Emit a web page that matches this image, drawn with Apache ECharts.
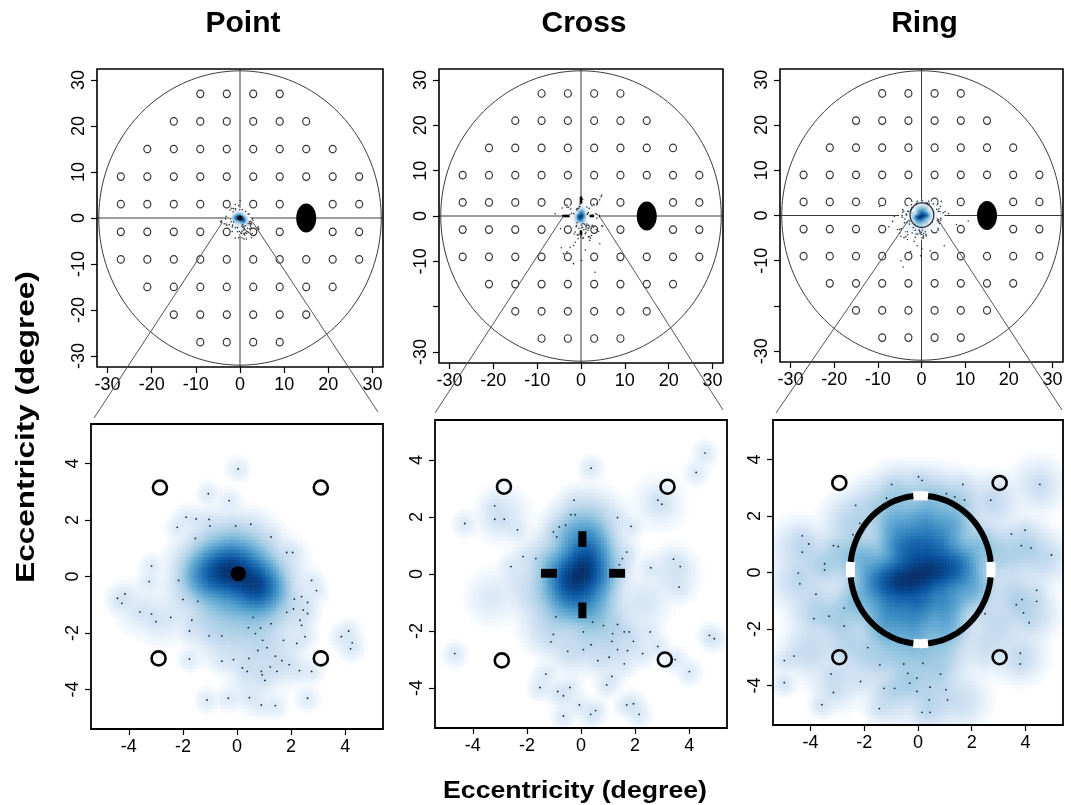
<!DOCTYPE html>
<html><head><meta charset="utf-8">
<script src="https://cdn.jsdelivr.net/npm/echarts@6/dist/echarts.min.js"></script>
<style>html,body{margin:0;padding:0;background:#fff}#c{width:1071px;height:805px}</style>
</head><body><div id="c"></div>
<script>
// ---------------- DATA ----------------
const panelTitles = ['Point', 'Cross', 'Ring'];
const axisTitle = 'Eccentricity (degree)';
const topTicks = [-30, -20, -10, 0, 10, 20, 30];
const topYLabels = [[-30, -20, -10, 0, 10, 20, 30], [-30, -10, 0, 10, 20, 30], [-30, -10, 0, 10, 20, 30]];
const bottomTicks = [-4, -2, 0, 2, 4];

// 30-2 test grid rows: [y, x-positions]
const testRows = [
  [27, [-9, -3, 3, 9]],
  [21, [-15, -9, -3, 3, 9, 15]],
  [15, [-21, -15, -9, -3, 3, 9, 15, 21]],
  [9, [-27, -21, -15, -9, -3, 3, 9, 15, 21, 27]],
  [3, [-27, -21, -15, -9, -3, 3, 9, 21, 27]],
  [-3, [-27, -21, -15, -9, -3, 3, 9, 21, 27]],
  [-9, [-27, -21, -15, -9, -3, 3, 9, 15, 21, 27]],
  [-15, [-21, -15, -9, -3, 3, 9, 15, 21]],
  [-21, [-15, -9, -3, 3, 9, 15]],
  [-27, [-9, -3, 3, 9]]
];
const blindSpot = [15, 0];

// surrounding stimuli in the zoomed panels
const surroundPoint = [[-2.85, 3.15], [3.1, 3.15], [-2.9, -2.9], [3.1, -2.9]];
const surroundCross = [[-2.85, 3.06], [3.2, 3.06], [-2.93, -3.03], [3.1, -3.0]];
const surroundRing = [[-2.93, 3.17], [3.04, 3.17], [-2.93, -3.0], [3.04, -3.0]];

// fixation targets
const pointTarget = [0.05, 0.1];
const crossArms = [[-0.1, 0.95, 0.2, 1.5], [-0.1, -1.0, 0.2, -1.55], [-1.48, -0.13, -0.89, 0.18], [1.04, -0.13, 1.63, 0.18]];
const ringTarget = [0.1, 0.1, 2.62];
const ringGapAngles = [0, 90, 180, 270];

// outlying gaze samples (dots)
const dotsPoint = [[0.04,3.81],[-1.06,2.93],[-0.29,2.69],[-1.88,2.10],[-1.51,2.04],[-1.03,2.02],[-1.0,1.79],[-0.05,1.79],[0.51,1.85],[-2.21,1.74],[-1.54,1.35],[1.26,1.40],[1.84,0.85],[2.06,0.85],[-3.16,0.37],[-3.25,-0.18],[-2.16,-0.14],[2.76,-0.14],[2.94,-0.5],[-4.14,-0.62],[-4.42,-0.77],[-4.26,-0.95],[-2.0,-0.81],[-1.45,-0.88],[2.12,-0.8],[2.39,-0.71],[2.61,-0.92],[-3.59,-1.25],[-3.16,-1.33],[-3.0,-1.6],[-2.45,-1.45],[-1.67,-1.55],[1.84,-1.27],[2.09,-1.15],[2.45,-1.19],[2.61,-1.31],[2.33,-1.55],[2.39,-1.73],[0.6,-1.45],[0.42,-1.81],[0.87,-1.83],[1.26,-1.67],[-1.76,-1.93],[0.68,-2.02],[-1.03,-2.1],[-0.56,-2.1],[0.95,-2.26],[1.72,-2.26],[2.21,-2.37],[2.52,-2.13],[3.86,-2.13],[4.13,-1.93],[4.26,-2.35],[4.2,-2.56],[1.11,-2.52],[0.77,-2.62],[-1.76,-2.92],[-0.56,-3.0],[-0.13,-2.94],[0.44,-2.9],[1.42,-2.82],[1.66,-2.98],[1.93,-3.12],[0.2,-3.24],[0.38,-3.36],[0.9,-3.36],[1.23,-3.2],[1.48,-3.36],[2.31,-3.33],[2.76,-3.36],[0.93,-3.48],[1.03,-3.68],[-1.11,-4.37],[-0.32,-4.31],[0.46,-4.29],[0.9,-4.55],[1.42,-4.57],[2.61,-4.31]];
const dotsCross = [[0.37,3.71],[4.59,4.24],[4.26,3.56],[-4.3,1.77],[-3.19,2.39],[-3.19,1.92],[-2.84,1.92],[-2.35,1.55],[-2.59,0.26],[-0.26,2.59],[-0.38,2.08],[-0.22,2.08],[-0.57,1.71],[-0.8,1.65],[-1.02,1.48],[-0.9,1.3],[1.35,1.98],[1.85,1.67],[-2.14,0.61],[-1.67,0.54],[1.69,0.77],[1.53,0.54],[1.42,0.32],[2.84,2.59],[2.99,2.45],[2.58,0.22],[3.42,0.52],[3.67,0.26],[3.63,-0.46],[-0.93,-1.5],[0.09,-2.03],[0.43,-1.69],[0.83,-1.81],[1.35,-1.77],[1.17,-2.09],[1.14,-2.36],[1.6,-2.03],[1.78,-2.03],[1.94,-2.36],[2.56,-2.03],[2.84,-2.54],[-1.02,-2.12],[-1.11,-2.38],[-0.49,-2.71],[0.09,-2.65],[0.37,-2.48],[0.62,-3.04],[1.04,-2.92],[1.35,-2.65],[1.72,-2.69],[1.6,-3.15],[2.28,-2.79],[3.48,-3.0],[4.01,-3.42],[-4.67,-2.79],[4.75,-2.15],[4.93,-2.27],[-1.3,-3.51],[-1.52,-3.98],[-0.86,-4.12],[-0.65,-4.27],[-0.41,-3.98],[1.14,-3.59],[0.95,-3.89],[-0.06,-4.59],[0.36,-4.92],[0.54,-4.79],[1.69,-4.59],[1.94,-4.55],[2.15,-4.92],[-0.65,-4.98]];
const dotsRing = [[0.02,3.39],[0.15,3.26],[-0.98,3.12],[1.67,3.12],[4.54,3.12],[-2.32,2.38],[-1.17,2.63],[1.06,2.79],[1.37,2.68],[1.73,2.56],[2.71,2.56],[-2.17,1.74],[-2.42,1.34],[-4.31,1.3],[-4.07,1.01],[-4.31,0.72],[-3.15,0.95],[-2.97,0.92],[-3.48,0.31],[-3.48,0.09],[-4.46,-0.02],[-4.4,-0.4],[-3.8,-0.77],[-2.75,-1.26],[-3.31,-1.55],[-3.88,-1.63],[-2.75,-1.9],[3.48,1.36],[3.99,1.5],[3.85,0.95],[4.21,0.87],[4.97,0.62],[4.42,-0.63],[4.42,-1.02],[3.66,-1.14],[3.87,-0.96],[3.93,-1.43],[4.14,-1.78],[2.5,-1.46],[3.81,-2.86],[3.81,-3.24],[-4.98,-3.12],[-4.62,-2.96],[-4.98,-3.9],[-3.24,-3.59],[-3.15,-4.25],[-3.58,-4.68],[-2.14,-3.86],[-1.87,-2.66],[-1.42,-3.27],[-1.26,-4.1],[-0.87,-4.1],[-1.44,-4.82],[-0.53,-3.24],[-0.38,-3.57],[-0.31,-3.92],[-0.04,-3.74],[0.18,-3.22],[-0.04,-4.21],[0.45,-4.06],[0.84,-3.6],[1.04,-4.15],[0.15,-4.95],[0.45,-4.95],[0.42,-4.51],[1.1,-4.51]];

// dense gaze clusters [x, y, weight]
const clustersPoint = [[-0.7,0.1,150],[0.0,0.1,200],[0.6,-0.2,200],[0.9,-0.4,110],[-0.3,0.3,120],[-1.2,0.1,50],[0.0,0.7,45],[-0.8,0.6,30],[0.7,0.5,30],[-1.2,-0.1,25],[0.0,-0.7,35],[-0.7,-0.8,18],[0.7,-0.9,22],[1.3,-0.5,15],[-0.2,1.3,10],[-0.9,1.2,6],[0.6,1.2,6],[-1.6,0.5,4],[-0.3,-1.5,8],[0.4,-1.5,8],[1.2,-1.4,6],[-1.1,-1.5,5],[-0.5,-2.2,3],[0.3,-2.3,4],[1.1,-2.2,3],[1.8,-1.1,2],[1.6,0.4,3],[-1.9,-0.7,2],[-3.6,-1.1,1],[-2.8,-1.5,1],[0.8,-3.0,2],[1.7,-3.0,1.5],[0.5,-3.8,1]];
const clustersCross = [[0.1,0.15,200],[-0.4,-0.2,160],[0.2,0.7,90],[-0.1,-0.7,80],[0.3,1.2,40],[-0.3,1.3,25],[0.5,-0.2,50],[-0.8,0.2,25],[0.4,-1.1,25],[-0.6,-1.1,20],[0.1,1.9,8],[0.6,1.9,4],[-0.9,-0.6,12],[-1.2,0.5,5],[0.9,0.5,7],[-1.5,-0.8,4],[-1.2,-1.8,4],[0.3,-1.8,6],[1.0,-1.6,5],[-0.3,-2.5,3],[0.8,-2.5,3],[1.6,-2.2,2],[-2.0,-0.3,2],[2.3,-1.0,1.5],[3.4,0.0,1.5],[-2.9,2.1,1.5],[-3.3,-0.8,1],[2.9,2.5,1]];
const clustersRing = [[0,-0.1,150],[-0.7,-0.3,150],[0.7,0.1,130],[1.4,0.2,80],[-1.4,-0.3,60],[0.0,0.8,70],[-0.6,0.9,50],[0.7,1.0,50],[0.2,1.7,35],[-0.8,1.7,22],[1.2,1.7,22],[0.0,-1.0,65],[-1.0,-1.2,40],[1.0,-1.0,40],[-0.2,-1.8,30],[1.0,-1.9,20],[-1.2,-1.9,20],[2.0,-0.5,20],[-2.0,0.5,16],[-2.2,-1.0,14],[2.3,0.9,12],[0.5,2.6,10],[-0.7,2.7,8],[1.5,2.5,5],[-1.6,2.3,5],[0.0,-2.7,10],[-0.9,-2.8,7],[0.9,-2.9,6],[-2.8,0.6,6],[-3.6,0.3,4],[-3.8,-1.3,4],[-3.0,-1.6,5],[-2.6,-2.5,4],[-4.0,-2.7,3],[-1.8,-3.0,4],[-0.4,-3.8,5],[0.6,-3.6,4],[-1.0,-4.3,3],[0.5,-4.6,3],[-3.0,-3.8,2],[3.2,0.6,5],[4.0,0.9,4],[3.6,-0.8,4],[4.2,-1.4,3],[3.0,-1.8,3],[2.5,-2.6,2],[3.8,-2.9,2],[4.6,0.5,2.5],[-4.4,0.9,2.5],[-4.5,-0.3,2.5],[2.8,2.5,2.5],[4.5,3.1,1.5],[1.6,-4.5,2],[-2.5,1.8,4]];

// extra outlying samples visible only at the full-field scale
const topDotsPoint = [];
const topDotsCross = [[4.7,4.6],[3.6,2.8],[-5.9,0.5],[-1.7,-6.5],[-2.5,-6.9],[-3.2,-7.9],[-4.0,-8.3],[-1.7,-10.5],[3.2,-12.4],[-1.3,-5.8],[2.4,-4.3],[2.0,-5.4],[4.3,-6.1],[0.15,-9.8],[-4.5,-7.0],[1.0,-7.5]];
const topDotsRing = [[-9.6,2.0],[-6.6,-1.3],[-6.2,-0.2],[-5.5,-3.1],[-4.7,-4.6],[-4.0,-4.9],[-3.2,-5.3],[-1.7,-5.7],[-1.0,-6.7],[0.1,-7.4],[-4.7,-10.0],[-4.2,-11.4],[-0.2,-8.9],[2.0,-7.8],[5.2,-6.7],[8.0,-2.0],[10.7,-1.2],[4.3,2.0],[5.4,0.9],[6.2,0.4],[-7.5,-2.5],[-2.5,-8.0]];

// ---------------- LAYOUT / STYLE ----------------
const FONT = '"Liberation Sans", Arial, sans-serif';
const TOP_HALF = 32.4, BOT_HALF = 5.4, FIELD_R = 32;
const topGrids = [{left:97,top:69,width:286,height:298},{left:439,top:69,width:284,height:294},{left:780,top:69,width:283,height:293}];
const botGrids = [{left:91,top:424,width:292,height:305},{left:435,top:420,width:292,height:308},{left:773,top:420,width:290,height:305}];
const BW_FINE = 0.2, BW_BROAD = 0.42;
const BLUES = ['#FFFFFF','#F7FBFF','#DEEBF7','#C6DBEF','#9ECAE1','#6BAED6','#4292C6','#2171B5','#08519C','#08306B'];

function hex(h){return [parseInt(h.slice(1,3),16),parseInt(h.slice(3,5),16),parseInt(h.slice(5,7),16)];}
const BL = BLUES.map(hex);
function ramp(t){
  t = Math.max(0, Math.min(1, t));
  const f = t * (BL.length - 1); const i = Math.min(Math.floor(f), BL.length - 2); const u = f - i;
  const a = BL[i], b = BL[i+1];
  return 'rgb(' + Math.round(a[0]+(b[0]-a[0])*u) + ',' + Math.round(a[1]+(b[1]-a[1])*u) + ',' + Math.round(a[2]+(b[2]-a[2])*u) + ')';
}
function dens(dots, clusters, x, y){
  let d = 0; const f2 = 2*BW_FINE*BW_FINE, b2 = 2*BW_BROAD*BW_BROAD;
  for (const p of dots){const dx=x-p[0], dy=y-p[1]; d += Math.exp(-(dx*dx+dy*dy)/f2);}
  for (const p of clusters){const dx=x-p[0], dy=y-p[1]; d += p[2]*Math.exp(-(dx*dx+dy*dy)/b2);}
  return d;
}
function densityCells(dots, clusters, half, step, power, cutoff){
  const n = Math.round(2*half/step); const vals = []; let max = 0;
  for (let i=0;i<n;i++) for (let j=0;j<n;j++){
    const x = -half + step*(i+0.5), y = -half + step*(j+0.5);
    const d = dens(dots, clusters, x, y); vals.push([x,y,d]); if (d>max) max = d;
  }
  const out = [];
  for (const v of vals){ const t = Math.pow(v[2]/max, power); if (t > cutoff) out.push([v[0], v[1], t]); }
  return out;
}

const dotsAll = [dotsPoint, dotsCross, dotsRing];
const clustersAll = [clustersPoint, clustersCross, clustersRing];
const topDotsAll = [topDotsPoint, topDotsCross, topDotsRing];
const surroundAll = [surroundPoint, surroundCross, surroundRing];

const grids = [], xAxes = [], yAxes = [], series = [];
function addAxes(gi, half, ticks, ylabels){
  const common = {gridIndex:gi, type:'value', min:-half, max:half,
    axisLine:{show:false, onZero:false},
    axisTick:{show:true, inside:false, length:6, customValues:ticks, lineStyle:{color:'#000', width:1.2}},
    splitLine:{show:false}};
  xAxes.push(Object.assign({}, common, {position:'bottom',
    axisLabel:{customValues:ticks, fontSize:18, color:'#000', fontFamily:FONT, margin:9}}));
  yAxes.push(Object.assign({}, common, {position:'left',
    axisLabel:{customValues:ylabels, fontSize:18, color:'#000', fontFamily:FONT, margin:9, rotate:90}}));
}
function cellSeries(gi, cells, step, z){
  return {type:'custom', xAxisIndex:gi, yAxisIndex:gi, z:z, silent:true, animation:false, progressive:0,
    data:cells, renderItem:function(params, api){
      const x = api.value(0), y = api.value(1), t = api.value(2);
      const p1 = api.coord([x-step/2, y+step/2]), p2 = api.coord([x+step/2, y-step/2]);
      return {type:'rect', shape:{x:p1[0], y:p1[1], width:p2[0]-p1[0]+0.6, height:p2[1]-p1[1]+0.6}, style:{fill:ramp(t)}};
    }};
}
function boxSeries(gi, half, lw){
  return {type:'custom', xAxisIndex:gi, yAxisIndex:gi, z:20, silent:true, animation:false, data:[[0,0]],
    renderItem:function(params, api){
      const a = api.coord([-half, half]), b = api.coord([half, -half]);
      return {type:'rect', shape:{x:a[0], y:a[1], width:b[0]-a[0], height:b[1]-a[1]}, style:{stroke:'#000', lineWidth:lw, fill:null}};
    }};
}

for (let k=0;k<3;k++){
  // ---- top panel (full field) ----
  const gi = k;
  grids.push(Object.assign({show:false}, topGrids[k]));
  addAxes(gi, TOP_HALF, topTicks, topYLabels[k]);
  series.push({type:'custom', xAxisIndex:gi, yAxisIndex:gi, z:2, silent:true, animation:false, data:[[0,0]],
    renderItem:function(params, api){
      const pts = [];
      for (let a=0;a<=360;a+=2){const r=a*Math.PI/180; pts.push(api.coord([FIELD_R*Math.cos(r), FIELD_R*Math.sin(r)]));}
      const st = {stroke:'#3a3a3a', lineWidth:1, fill:null};
      const c = api.coord([0,0]), lo = api.coord([-TOP_HALF,-TOP_HALF]), hi = api.coord([TOP_HALF,TOP_HALF]);
      return {type:'group', children:[
        {type:'polyline', shape:{points:pts}, style:st},
        {type:'line', shape:{x1:lo[0], y1:c[1], x2:hi[0], y2:c[1]}, style:st},
        {type:'line', shape:{x1:c[0], y1:hi[1], x2:c[0], y2:lo[1]}, style:st}
      ]};
    }});
  const testPts = [];
  for (const row of testRows) for (const x of row[1]) testPts.push([x, row[0]]);
  series.push({type:'scatter', xAxisIndex:gi, yAxisIndex:gi, z:3, silent:true, animation:false, data:testPts,
    symbol:'circle', symbolSize:[7,7.5], itemStyle:{color:'rgba(0,0,0,0)', borderColor:'#333', borderWidth:1.2, opacity:1}});
  series.push({type:'scatter', xAxisIndex:gi, yAxisIndex:gi, z:3, silent:true, animation:false, data:[blindSpot],
    symbol:'circle', symbolSize:[20,29], itemStyle:{color:'#000', opacity:1}});
  if (k===1){
    series.push({type:'custom', xAxisIndex:gi, yAxisIndex:gi, z:3, silent:true, animation:false, data:[[0,0]],
      renderItem:function(params, api){
        const c = api.coord([0,0]); const a = api.coord([4.3,4.3]); const b = api.coord([1.0,1.0]);
        const dx = a[0]-c[0], dy = c[1]-a[1], ix = b[0]-c[0], iy = c[1]-b[1];
        const st = {stroke:'#000', lineWidth:2.6};
        return {type:'group', children:[
          {type:'line', shape:{x1:c[0]-dx,y1:c[1],x2:c[0]-ix,y2:c[1]}, style:st},
          {type:'line', shape:{x1:c[0]+ix,y1:c[1],x2:c[0]+dx,y2:c[1]}, style:st},
          {type:'line', shape:{x1:c[0],y1:c[1]-dy,x2:c[0],y2:c[1]-iy}, style:st},
          {type:'line', shape:{x1:c[0],y1:c[1]+iy,x2:c[0],y2:c[1]+dy}, style:st}]};
      }});
  }
  series.push(cellSeries(gi, densityCells(dotsAll[k], clustersAll[k], 9, 0.3, 0.45, 0.08), 0.3, 4));
  series.push({type:'scatter', xAxisIndex:gi, yAxisIndex:gi, z:5, silent:true, animation:false,
    data:dotsAll[k].concat(topDotsAll[k]), symbolSize:1.6, itemStyle:{color:'#333', opacity:1}});
  if (k===0){
    series.push({type:'scatter', xAxisIndex:gi, yAxisIndex:gi, z:6, silent:true, animation:false, data:[[0,0]],
      symbolSize:5, itemStyle:{color:'#000', opacity:1}});
  }
  if (k===2){
    series.push({type:'custom', xAxisIndex:gi, yAxisIndex:gi, z:6, silent:true, animation:false, data:[ringTarget],
      renderItem:function(params, api){
        const cx=api.value(0), cy=api.value(1), r=api.value(2)+0.1; const pts=[];
        for (let a=0;a<=360;a+=6){const t=a*Math.PI/180; pts.push(api.coord([cx+r*Math.cos(t), cy+r*Math.sin(t)]));}
        return {type:'polyline', shape:{points:pts}, style:{stroke:'#222', lineWidth:1.2, fill:null}};
      }});
  }
  series.push(boxSeries(gi, TOP_HALF, 1.6));
}

for (let k=0;k<3;k++){
  // ---- bottom panel (zoomed) ----
  const gi = 3 + k;
  grids.push(Object.assign({show:false}, botGrids[k]));
  addAxes(gi, BOT_HALF, bottomTicks, bottomTicks);
  series.push(cellSeries(gi, densityCells(dotsAll[k], clustersAll[k], BOT_HALF, 0.12, 0.25, 0.1), 0.12, 2));
  series.push({type:'scatter', xAxisIndex:gi, yAxisIndex:gi, z:4, silent:true, animation:false,
    data:dotsAll[k], symbolSize:1.8, itemStyle:{color:'#1d2733', opacity:1}});
  series.push({type:'scatter', xAxisIndex:gi, yAxisIndex:gi, z:6, silent:true, animation:false,
    data:surroundAll[k], symbol:'circle', symbolSize:14, itemStyle:{color:'rgba(0,0,0,0)', borderColor:'#000', borderWidth:2.6, opacity:1}});
  if (k===0){
    series.push({type:'scatter', xAxisIndex:gi, yAxisIndex:gi, z:6, silent:true, animation:false,
      data:[pointTarget], symbolSize:15, itemStyle:{color:'#000', opacity:1}});
  } else if (k===1){
    series.push({type:'custom', xAxisIndex:gi, yAxisIndex:gi, z:6, silent:true, animation:false, data:crossArms,
      renderItem:function(params, api){
        const p1 = api.coord([api.value(0), api.value(3)]), p2 = api.coord([api.value(2), api.value(1)]);
        return {type:'rect', shape:{x:Math.min(p1[0],p2[0]), y:Math.min(p1[1],p2[1]), width:Math.abs(p2[0]-p1[0]), height:Math.abs(p2[1]-p1[1])}, style:{fill:'#000'}};
      }});
  } else {
    series.push({type:'custom', xAxisIndex:gi, yAxisIndex:gi, z:6, silent:true, animation:false, data:[ringTarget],
      renderItem:function(params, api){
        const cx=api.value(0), cy=api.value(1), r=api.value(2); const pts=[];
        for (let a=0;a<=360;a+=2){const t=a*Math.PI/180; pts.push(api.coord([cx+r*Math.cos(t), cy+r*Math.sin(t)]));}
        const children = [{type:'polyline', shape:{points:pts}, style:{stroke:'#000', lineWidth:6, fill:null}}];
        for (const g of ringGapAngles){
          const gp = [];
          for (let a=g-6;a<=g+6;a+=1){const t=a*Math.PI/180; gp.push(api.coord([cx+r*Math.cos(t), cy+r*Math.sin(t)]));}
          children.push({type:'polyline', shape:{points:gp}, style:{stroke:'#fff', lineWidth:9, fill:null}});
        }
        return {type:'group', children:children};
      }});
  }
  series.push(boxSeries(gi, BOT_HALF, 1.8));
}

const chart = echarts.init(document.getElementById('c'), null, {renderer:'canvas'});
chart.setOption({animation:false, backgroundColor:'#fff', grid:grids, xAxis:xAxes, yAxis:yAxes, series:series});

// zoom connectors: from fixation area in the field plot to the corners of the zoomed plot
const linkStarts = [[[-4.0,-0.95],[2.9,-0.95]], [[-4.0,0.0],[4.3,-0.2]], [[-2.9,-0.9],[3.5,-0.5]]];
const linkEndOffsets = [[[3,-6],[-5,-12]], [[0,-7],[-4,-10]], [[3,-7],[-1,-10]]];
const graphics = [];
for (let k=0;k<3;k++){
  const g = botGrids[k];
  const L = chart.convertToPixel({gridIndex:k}, linkStarts[k][0]);
  const R = chart.convertToPixel({gridIndex:k}, linkStarts[k][1]);
  const eL = [g.left + linkEndOffsets[k][0][0], g.top + linkEndOffsets[k][0][1]];
  const eR = [g.left + g.width + linkEndOffsets[k][1][0], g.top + linkEndOffsets[k][1][1]];
  const ls = {stroke:'#555', lineWidth:1};
  graphics.push({type:'line', z:100, silent:true, shape:{x1:L[0],y1:L[1],x2:eL[0],y2:eL[1]}, style:ls});
  graphics.push({type:'line', z:100, silent:true, shape:{x1:R[0],y1:R[1],x2:eR[0],y2:eR[1]}, style:ls});
  const tg = topGrids[k];
  graphics.push({type:'text', z:100, x:tg.left + tg.width/2 + 3, y:24,
    style:{text:panelTitles[k], font:'bold 30px ' + FONT, fill:'#000', align:'center', verticalAlign:'middle', textAlign:'center', textVerticalAlign:'middle'}});
}
graphics.push({type:'text', z:100, x:575, y:792, scaleX:1.16,
  style:{text:axisTitle, font:'bold 23px ' + FONT, fill:'#000', align:'center', verticalAlign:'middle', textAlign:'center', textVerticalAlign:'middle'}});
graphics.push({type:'text', z:100, x:27, y:427, rotation:Math.PI/2, scaleX:1.26,
  style:{text:axisTitle, font:'bold 25px ' + FONT, fill:'#000', align:'center', verticalAlign:'middle', textAlign:'center', textVerticalAlign:'middle'}});
chart.setOption({graphic:graphics});
</script></body></html>
